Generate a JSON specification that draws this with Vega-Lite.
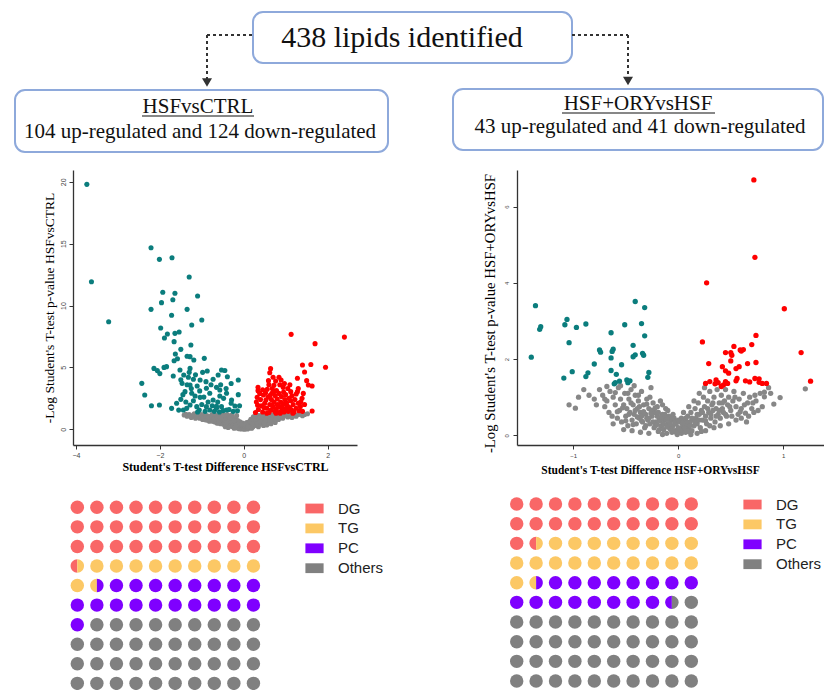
{
"$schema":"https://vega.github.io/schema/vega-lite/v6.json",
"autosize":{"type":"none"},
"padding":{"left":73,"top":0,"right":751,"bottom":690},
"background":"white",
"config":{"view":{"stroke":null},
"axis":{"grid":false,"domainColor":"#333","domainWidth":1.3,"tickColor":"#333","tickSize":4,"labelFont":"Liberation Sans","labelFontSize":7,"labelColor":"#444","titleFont":"Liberation Serif","titleColor":"#000"}},
"columns":2,
"spacing":{"row":10,"column":160},
"bounds":"flush",
"align":"each",
"resolve":{"scale":{"x":"independent","y":"independent","color":"independent","shape":"independent"},"legend":{"color":"independent"}},
"concat":[
{"width":284,"height":160,
"layer":[
{"data":{"values":[{"x":207,"y":35,"x2":253,"y2":35},{"x":207,"y":35,"x2":207,"y2":80}]},
"mark":{"type":"rule","strokeDash":[3,3],"strokeWidth":2,"color":"#333"},
"encoding":{"x":{"field":"x","type":"quantitative","scale":{"domain":[73,357],"nice":false,"zero":false},"axis":null},"x2":{"field":"x2"},"y":{"field":"y","type":"quantitative","scale":{"domain":[0,160],"reverse":true,"nice":false,"zero":false},"axis":null},"y2":{"field":"y2"}}},
{"data":{"values":[{"x":207,"y":82.5}]},
"mark":{"type":"point","shape":"triangle-down","filled":true,"size":100,"color":"#333","opacity":1},
"encoding":{"x":{"field":"x","type":"quantitative","axis":null},"y":{"field":"y","type":"quantitative","axis":null}}},
{"data":{"values":[{"x":253,"x2":572,"y":12,"y2":63},{"x":15,"x2":388,"y":90,"y2":152}]},
"mark":{"type":"rect","fill":"white","stroke":"#8EA9DB","strokeWidth":2,"cornerRadius":10},
"encoding":{"x":{"field":"x","type":"quantitative","axis":null},"x2":{"field":"x2"},"y":{"field":"y","type":"quantitative","axis":null},"y2":{"field":"y2"}}},
{"data":{"values":[{"x":142,"x2":254,"y":116,"y2":116}]},
"mark":{"type":"rule","strokeWidth":1.2,"color":"#111"},
"encoding":{"x":{"field":"x","type":"quantitative","axis":null},"x2":{"field":"x2"},"y":{"field":"y","type":"quantitative","axis":null},"y2":{"field":"y2"}}},
{"data":{"values":[{"x":402,"y":47,"t":"438 lipids identified"}]},
"mark":{"type":"text","font":"Liberation Serif","fontSize":30,"align":"center","baseline":"alphabetic","color":"#111"},
"encoding":{"x":{"field":"x","type":"quantitative","axis":null},"y":{"field":"y","type":"quantitative","axis":null},"text":{"field":"t"}}},
{"data":{"values":[{"x":198,"y":113,"t":"HSFvsCTRL"},{"x":200,"y":138,"t":"104 up-regulated and 124 down-regulated"}]},
"mark":{"type":"text","font":"Liberation Serif","fontSize":21,"align":"center","baseline":"alphabetic","color":"#111"},
"encoding":{"x":{"field":"x","type":"quantitative","axis":null},"y":{"field":"y","type":"quantitative","axis":null},"text":{"field":"t"}}}
]},
{"width":307,"height":160,
"layer":[
{"data":{"values":[{"x":572,"y":35,"x2":628,"y2":35},{"x":628,"y":35,"x2":628,"y2":78}]},
"mark":{"type":"rule","strokeDash":[3,3],"strokeWidth":2,"color":"#333"},
"encoding":{"x":{"field":"x","type":"quantitative","scale":{"domain":[517,824],"nice":false,"zero":false},"axis":null},"x2":{"field":"x2"},"y":{"field":"y","type":"quantitative","scale":{"domain":[0,160],"reverse":true,"nice":false,"zero":false},"axis":null},"y2":{"field":"y2"}}},
{"data":{"values":[{"x":628,"y":81}]},
"mark":{"type":"point","shape":"triangle-down","filled":true,"size":100,"color":"#333","opacity":1},
"encoding":{"x":{"field":"x","type":"quantitative","axis":null},"y":{"field":"y","type":"quantitative","axis":null}}},
{"data":{"values":[{"x":453,"x2":823,"y":89,"y2":150}]},
"mark":{"type":"rect","fill":"white","stroke":"#8EA9DB","strokeWidth":2,"cornerRadius":10},
"encoding":{"x":{"field":"x","type":"quantitative","axis":null},"x2":{"field":"x2"},"y":{"field":"y","type":"quantitative","axis":null},"y2":{"field":"y2"}}},
{"data":{"values":[{"x":562,"x2":715,"y":113,"y2":113}]},
"mark":{"type":"rule","strokeWidth":1.2,"color":"#111"},
"encoding":{"x":{"field":"x","type":"quantitative","axis":null},"x2":{"field":"x2"},"y":{"field":"y","type":"quantitative","axis":null},"y2":{"field":"y2"}}},
{"data":{"values":[{"x":638,"y":110,"t":"HSF+ORYvsHSF"},{"x":640,"y":133,"t":"43 up-regulated and 41 down-regulated"}]},
"mark":{"type":"text","font":"Liberation Serif","fontSize":21,"align":"center","baseline":"alphabetic","color":"#111"},
"encoding":{"x":{"field":"x","type":"quantitative","axis":null},"y":{"field":"y","type":"quantitative","axis":null},"text":{"field":"t"}}}
]},
{"width":284,"height":275,
"data":{"values":[
{"x":-1.42,"y":1.15,"s":"n"},{"x":-1.35,"y":1.05,"s":"n"},{"x":-1.3,"y":1.2,"s":"n"},{"x":-1.25,"y":0.95,"s":"n"},{"x":-1.2,"y":1.1,"s":"n"},{"x":-1.15,"y":0.9,"s":"n"},{"x":-1.1,"y":1.2,"s":"n"},{"x":-1.05,"y":0.9,"s":"n"},{"x":-1.0,"y":1.05,"s":"n"},{"x":-0.98,"y":0.8,"s":"n"},{"x":-0.95,"y":1.2,"s":"n"},{"x":-0.92,"y":0.95,"s":"n"},{"x":-0.9,"y":0.75,"s":"n"},{"x":-0.88,"y":1.1,"s":"n"},{"x":-0.85,"y":0.85,"s":"n"},{"x":-0.82,"y":0.65,"s":"n"},{"x":-0.8,"y":1.0,"s":"n"},{"x":-0.78,"y":0.75,"s":"n"},{"x":-0.75,"y":1.2,"s":"n"},{"x":-0.72,"y":0.9,"s":"n"},{"x":-0.7,"y":0.6,"s":"n"},{"x":-0.68,"y":0.75,"s":"n"},{"x":-0.66,"y":1.1,"s":"n"},{"x":-0.64,"y":0.5,"s":"n"},{"x":-0.62,"y":0.95,"s":"n"},{"x":-0.6,"y":0.65,"s":"n"},{"x":-0.58,"y":0.8,"s":"n"},{"x":-0.56,"y":1.2,"s":"n"},{"x":-0.55,"y":0.45,"s":"n"},{"x":-0.53,"y":1.0,"s":"n"},{"x":-0.52,"y":0.6,"s":"n"},{"x":-0.5,"y":0.85,"s":"n"},{"x":-0.48,"y":0.4,"s":"n"},{"x":-0.47,"y":0.7,"s":"n"},{"x":-0.46,"y":1.1,"s":"n"},{"x":-0.45,"y":0.5,"s":"n"},{"x":-0.43,"y":0.9,"s":"n"},{"x":-0.42,"y":0.35,"s":"n"},{"x":-0.4,"y":0.65,"s":"n"},{"x":-0.39,"y":1.2,"s":"n"},{"x":-0.38,"y":0.45,"s":"n"},{"x":-0.36,"y":0.8,"s":"n"},{"x":-0.35,"y":0.3,"s":"n"},{"x":-0.34,"y":1.0,"s":"n"},{"x":-0.33,"y":0.55,"s":"n"},{"x":-0.31,"y":0.35,"s":"n"},{"x":-0.3,"y":0.7,"s":"n"},{"x":-0.29,"y":1.15,"s":"n"},{"x":-0.28,"y":0.22,"s":"n"},{"x":-0.27,"y":0.5,"s":"n"},{"x":-0.26,"y":0.9,"s":"n"},{"x":-0.25,"y":0.3,"s":"n"},{"x":-0.24,"y":0.6,"s":"n"},{"x":-0.22,"y":0.15,"s":"n"},{"x":-0.21,"y":0.4,"s":"n"},{"x":-0.2,"y":0.8,"s":"n"},{"x":-0.19,"y":0.25,"s":"n"},{"x":-0.18,"y":0.55,"s":"n"},{"x":-0.17,"y":1.1,"s":"n"},{"x":-0.16,"y":0.1,"s":"n"},{"x":-0.15,"y":0.35,"s":"n"},{"x":-0.14,"y":0.7,"s":"n"},{"x":-0.13,"y":0.2,"s":"n"},{"x":-0.12,"y":0.45,"s":"n"},{"x":-0.11,"y":0.05,"s":"n"},{"x":-0.1,"y":0.3,"s":"n"},{"x":-0.09,"y":0.6,"s":"n"},{"x":-0.08,"y":0.15,"s":"n"},{"x":-0.07,"y":0.4,"s":"n"},{"x":-0.06,"y":0.02,"s":"n"},{"x":-0.05,"y":0.25,"s":"n"},{"x":-0.04,"y":0.1,"s":"n"},{"x":-0.03,"y":0.5,"s":"n"},{"x":-0.02,"y":0.2,"s":"n"},{"x":-0.01,"y":0.05,"s":"n"},{"x":0.0,"y":0.3,"s":"n"},{"x":0.01,"y":0.12,"s":"n"},{"x":0.02,"y":0.0,"s":"n"},{"x":0.03,"y":0.4,"s":"n"},{"x":0.04,"y":0.18,"s":"n"},{"x":0.05,"y":0.08,"s":"n"},{"x":0.06,"y":0.3,"s":"n"},{"x":0.07,"y":0.55,"s":"n"},{"x":0.08,"y":0.15,"s":"n"},{"x":0.09,"y":0.02,"s":"n"},{"x":0.1,"y":0.35,"s":"n"},{"x":0.11,"y":0.22,"s":"n"},{"x":0.12,"y":0.1,"s":"n"},{"x":0.13,"y":0.6,"s":"n"},{"x":0.14,"y":0.3,"s":"n"},{"x":0.15,"y":0.45,"s":"n"},{"x":0.16,"y":0.12,"s":"n"},{"x":0.17,"y":0.8,"s":"n"},{"x":0.18,"y":0.25,"s":"n"},{"x":0.19,"y":0.5,"s":"n"},{"x":0.2,"y":0.35,"s":"n"},{"x":0.21,"y":0.7,"s":"n"},{"x":0.22,"y":0.2,"s":"n"},{"x":0.23,"y":1.0,"s":"n"},{"x":0.24,"y":0.45,"s":"n"},{"x":0.25,"y":0.6,"s":"n"},{"x":0.26,"y":0.3,"s":"n"},{"x":0.27,"y":0.85,"s":"n"},{"x":0.28,"y":0.5,"s":"n"},{"x":0.29,"y":1.2,"s":"n"},{"x":0.3,"y":0.4,"s":"n"},{"x":0.31,"y":0.7,"s":"n"},{"x":0.32,"y":0.55,"s":"n"},{"x":0.33,"y":0.95,"s":"n"},{"x":0.34,"y":0.35,"s":"n"},{"x":0.35,"y":0.75,"s":"n"},{"x":0.36,"y":1.1,"s":"n"},{"x":0.37,"y":0.5,"s":"n"},{"x":0.38,"y":0.85,"s":"n"},{"x":0.4,"y":0.65,"s":"n"},{"x":0.41,"y":1.0,"s":"n"},{"x":0.42,"y":0.45,"s":"n"},{"x":0.44,"y":0.8,"s":"n"},{"x":0.45,"y":1.2,"s":"n"},{"x":0.46,"y":0.6,"s":"n"},{"x":0.48,"y":0.9,"s":"n"},{"x":0.5,"y":0.7,"s":"n"},{"x":0.52,"y":1.1,"s":"n"},{"x":0.54,"y":0.55,"s":"n"},{"x":0.56,"y":0.85,"s":"n"},{"x":0.58,"y":1.25,"s":"n"},{"x":0.6,"y":0.75,"s":"n"},{"x":0.62,"y":0.95,"s":"n"},{"x":0.64,"y":0.6,"s":"n"},{"x":0.66,"y":1.15,"s":"n"},{"x":0.68,"y":0.8,"s":"n"},{"x":0.7,"y":1.0,"s":"n"},{"x":0.72,"y":0.7,"s":"n"},{"x":0.75,"y":1.2,"s":"n"},{"x":0.78,"y":0.9,"s":"n"},{"x":0.8,"y":1.1,"s":"n"},{"x":0.83,"y":0.8,"s":"n"},{"x":0.86,"y":1.0,"s":"n"},{"x":0.9,"y":1.2,"s":"n"},{"x":0.93,"y":0.9,"s":"n"},{"x":0.96,"y":1.1,"s":"n"},{"x":1.0,"y":1.25,"s":"n"},{"x":1.05,"y":1.0,"s":"n"},{"x":1.1,"y":1.15,"s":"n"},{"x":1.15,"y":0.95,"s":"n"},{"x":1.2,"y":1.2,"s":"n"},{"x":1.25,"y":1.05,"s":"n"},{"x":1.3,"y":1.2,"s":"n"},{"x":1.4,"y":1.1,"s":"n"},{"x":1.45,"y":1.2,"s":"n"},{"x":1.52,"y":1.25,"s":"n"},{"x":-0.86,"y":0.75,"s":"n"},{"x":-0.74,"y":0.65,"s":"n"},{"x":-0.6,"y":0.5,"s":"n"},{"x":-0.44,"y":0.2,"s":"n"},{"x":-0.37,"y":0.15,"s":"n"},{"x":-0.23,"y":0.08,"s":"n"},{"x":0.19,"y":0.08,"s":"n"},{"x":0.35,"y":0.2,"s":"n"},{"x":0.47,"y":0.3,"s":"n"},{"x":0.55,"y":0.35,"s":"n"},{"x":0.65,"y":0.45,"s":"n"},{"x":0.75,"y":0.55,"s":"n"},
{"x":-1.38,"y":1.22,"s":"n"},{"x":-1.28,"y":1.1,"s":"n"},{"x":-1.18,"y":1.25,"s":"n"},{"x":-1.12,"y":1.0,"s":"n"},{"x":-1.02,"y":1.2,"s":"n"},{"x":-0.96,"y":0.9,"s":"n"},{"x":-0.9,"y":1.05,"s":"n"},{"x":-0.84,"y":0.95,"s":"n"},{"x":-0.77,"y":1.1,"s":"n"},{"x":-0.7,"y":0.85,"s":"n"},{"x":-0.64,"y":1.0,"s":"n"},{"x":-0.59,"y":0.75,"s":"n"},{"x":-0.54,"y":0.9,"s":"n"},{"x":-0.49,"y":1.2,"s":"n"},{"x":-0.44,"y":0.75,"s":"n"},{"x":-0.41,"y":0.55,"s":"n"},{"x":-0.32,"y":0.9,"s":"n"},{"x":-0.23,"y":0.7,"s":"n"},{"x":-0.18,"y":0.35,"s":"n"},{"x":-0.1,"y":0.5,"s":"n"},{"x":-0.05,"y":0.4,"s":"n"},{"x":0.05,"y":0.45,"s":"n"},{"x":0.1,"y":0.2,"s":"n"},{"x":0.15,"y":0.65,"s":"n"},{"x":0.22,"y":0.5,"s":"n"},{"x":0.28,"y":0.7,"s":"n"},{"x":0.33,"y":0.45,"s":"n"},{"x":0.39,"y":0.6,"s":"n"},{"x":0.43,"y":1.05,"s":"n"},{"x":0.49,"y":0.5,"s":"n"},{"x":0.53,"y":0.8,"s":"n"},{"x":0.57,"y":1.0,"s":"n"},{"x":0.63,"y":0.75,"s":"n"},{"x":0.69,"y":1.15,"s":"n"},{"x":0.76,"y":0.8,"s":"n"},{"x":0.85,"y":1.2,"s":"n"},{"x":0.92,"y":1.05,"s":"n"},{"x":1.08,"y":1.25,"s":"n"},{"x":1.18,"y":1.1,"s":"n"},{"x":1.35,"y":1.25,"s":"n"},
{"x":-3.74,"y":19.79,"s":"d"},{"x":-3.63,"y":11.92,"s":"d"},{"x":-3.22,"y":8.69,"s":"d"},{"x":-2.21,"y":14.67,"s":"d"},{"x":-2.01,"y":13.73,"s":"d"},{"x":-1.71,"y":13.86,"s":"d"},{"x":-1.3,"y":12.3,"s":"d"},{"x":-1.93,"y":11.07,"s":"d"},{"x":-1.64,"y":10.99,"s":"d"},{"x":-1.1,"y":10.77,"s":"d"},{"x":-1.96,"y":10.23,"s":"d"},{"x":-1.69,"y":10.47,"s":"d"},{"x":-2.21,"y":9.69,"s":"d"},{"x":-1.35,"y":9.69,"s":"d"},
{"x":-1.72,"y":9.21,"s":"d"},{"x":-1.24,"y":8.43,"s":"d"},{"x":-1.0,"y":8.83,"s":"d"},{"x":-1.98,"y":8.18,"s":"d"},{"x":-1.82,"y":7.7,"s":"d"},{"x":-1.54,"y":7.86,"s":"d"},{"x":-1.89,"y":7.37,"s":"d"},{"x":-1.64,"y":7.75,"s":"d"},{"x":-1.66,"y":7.08,"s":"d"},{"x":-1.26,"y":6.81,"s":"d"},{"x":-1.5,"y":6.46,"s":"d"},{"x":-1.63,"y":6.08,"s":"d"},{"x":-1.28,"y":5.87,"s":"d"},{"x":-0.94,"y":5.73,"s":"d"},{"x":-1.19,"y":5.6,"s":"d"},{"x":-1.66,"y":5.54,"s":"d"},{"x":-2.14,"y":4.92,"s":"d"},{"x":-2.06,"y":4.74,"s":"d"},{"x":-1.84,"y":5.06,"s":"d"},{"x":-1.52,"y":4.79,"s":"d"},{"x":-1.28,"y":4.92,"s":"d"},{"x":-0.87,"y":4.71,"s":"d"},{"x":-0.53,"y":4.79,"s":"d"},{"x":-0.61,"y":4.39,"s":"d"},{"x":-1.43,"y":4.39,"s":"d"},{"x":-1.32,"y":4.2,"s":"d"},{"x":-1.2,"y":4.04,"s":"d"},{"x":-1.04,"y":3.98,"s":"d"},{"x":-0.9,"y":3.85,"s":"d"},{"x":-0.73,"y":4.04,"s":"d"},{"x":-0.39,"y":4.25,"s":"d"},{"x":-0.13,"y":3.98,"s":"d"},{"x":-2.43,"y":3.71,"s":"d"},{"x":-2.36,"y":2.77,"s":"d"},{"x":-1.47,"y":3.71,"s":"d"},{"x":-1.28,"y":3.58,"s":"d"},{"x":-1.11,"y":3.5,"s":"d"},{"x":-0.89,"y":3.31,"s":"d"},{"x":-0.65,"y":3.39,"s":"d"},{"x":-0.57,"y":3.17,"s":"d"},{"x":-1.4,"y":3.04,"s":"d"},{"x":-1.24,"y":2.91,"s":"d"},{"x":-1.16,"y":2.69,"s":"d"},{"x":-1.04,"y":2.58,"s":"d"},{"x":-0.81,"y":2.91,"s":"d"},{"x":-0.73,"y":2.37,"s":"d"},{"x":-0.57,"y":2.69,"s":"d"},{"x":-0.41,"y":2.91,"s":"d"},{"x":-0.29,"y":2.37,"s":"d"},{"x":-0.21,"y":1.88,"s":"d"},{"x":-2.01,"y":1.96,"s":"d"},{"x":-1.72,"y":1.69,"s":"d"},{"x":-1.5,"y":2.42,"s":"d"},{"x":-1.44,"y":1.56,"s":"d"},{"x":-1.36,"y":1.69,"s":"d"},{"x":-1.28,"y":1.96,"s":"d"},{"x":-1.12,"y":1.83,"s":"d"},{"x":-1.06,"y":1.56,"s":"d"},{"x":-0.89,"y":1.83,"s":"d"},{"x":-0.81,"y":1.56,"s":"d"},{"x":-0.65,"y":1.69,"s":"d"},{"x":-0.53,"y":1.83,"s":"d"},{"x":-0.49,"y":1.51,"s":"d"},{"x":-0.41,"y":1.56,"s":"d"},
{"x":-1.35,"y":3.6,"s":"d"},{"x":-1.25,"y":3.3,"s":"d"},{"x":-1.05,"y":3.1,"s":"d"},{"x":-0.95,"y":2.6,"s":"d"},{"x":-0.85,"y":2.2,"s":"d"},{"x":-0.75,"y":1.9,"s":"d"},{"x":-0.62,"y":2.2,"s":"d"},{"x":-0.48,"y":2.5,"s":"d"},{"x":-0.42,"y":3.3,"s":"d"},{"x":-0.35,"y":1.6,"s":"d"},{"x":-0.25,"y":1.45,"s":"d"},{"x":-0.3,"y":2.1,"s":"d"},{"x":-1.45,"y":2.8,"s":"d"},{"x":-1.38,"y":2.2,"s":"d"},{"x":-1.2,"y":2.3,"s":"d"},{"x":-1.0,"y":2.0,"s":"d"},{"x":-0.92,"y":1.45,"s":"d"},{"x":-0.7,"y":1.45,"s":"d"},{"x":-0.58,"y":1.4,"s":"d"},{"x":-0.15,"y":1.5,"s":"d"},{"x":-0.1,"y":1.9,"s":"d"},{"x":-0.13,"y":2.8,"s":"d"},{"x":-0.55,"y":3.6,"s":"d"},{"x":-0.78,"y":3.6,"s":"d"},{"x":-1.55,"y":1.55,"s":"d"},{"x":-1.6,"y":2.1,"s":"d"},{"x":-1.3,"y":4.6,"s":"d"},{"x":-1.15,"y":4.4,"s":"d"},{"x":-0.98,"y":4.6,"s":"d"},{"x":-0.45,"y":4.75,"s":"d"},{"x":-0.3,"y":3.7,"s":"d"},{"x":-1.1,"y":1.4,"s":"d"},{"x":-1.5,"y":4.0,"s":"d"},{"x":-1.68,"y":4.3,"s":"d"},{"x":-2.0,"y":4.5,"s":"d"},{"x":-2.2,"y":1.9,"s":"d"},{"x":-1.9,"y":5.0,"s":"d"},{"x":-1.58,"y":5.7,"s":"d"},{"x":-1.35,"y":5.9,"s":"d"},{"x":-0.65,"y":1.85,"s":"d"},
{"x":1.13,"y":7.67,"s":"u"},{"x":2.4,"y":7.45,"s":"u"},{"x":1.7,"y":6.92,"s":"u"},{"x":1.4,"y":5.19,"s":"u"},{"x":1.6,"y":5.24,"s":"u"},{"x":1.95,"y":5.01,"s":"u"},{"x":1.45,"y":4.63,"s":"u"},{"x":0.64,"y":4.9,"s":"u"},{"x":0.62,"y":4.57,"s":"u"},{"x":1.28,"y":4.12,"s":"u"},{"x":1.5,"y":3.93,"s":"u"},{"x":1.54,"y":3.58,"s":"u"},{"x":1.63,"y":3.5,"s":"u"},{"x":1.63,"y":1.48,"s":"u"},{"x":0.59,"y":3.93,"s":"u"},{"x":0.84,"y":4.2,"s":"u"},{"x":0.89,"y":3.98,"s":"u"},{"x":0.72,"y":3.55,"s":"u"},{"x":0.34,"y":3.39,"s":"u"},{"x":0.34,"y":3.12,"s":"u"},{"x":0.32,"y":2.58,"s":"u"},{"x":0.56,"y":3.23,"s":"u"},{"x":0.94,"y":3.39,"s":"u"},{"x":0.67,"y":2.91,"s":"u"},{"x":0.78,"y":3.12,"s":"u"},{"x":1.12,"y":3.04,"s":"u"},{"x":1.28,"y":3.04,"s":"u"},{"x":1.36,"y":2.23,"s":"u"},{"x":1.39,"y":2.5,"s":"u"},{"x":0.47,"y":2.77,"s":"u"},{"x":0.53,"y":2.37,"s":"u"},
{"x":0.28,"y":1.35,"s":"u"},{"x":0.35,"y":1.6,"s":"u"},{"x":0.42,"y":1.9,"s":"u"},{"x":0.45,"y":1.4,"s":"u"},{"x":0.5,"y":2.1,"s":"u"},{"x":0.55,"y":1.7,"s":"u"},{"x":0.58,"y":2.6,"s":"u"},{"x":0.6,"y":1.35,"s":"u"},{"x":0.62,"y":2.0,"s":"u"},{"x":0.65,"y":1.55,"s":"u"},{"x":0.66,"y":2.4,"s":"u"},{"x":0.68,"y":3.3,"s":"u"},{"x":0.7,"y":1.8,"s":"u"},{"x":0.72,"y":2.2,"s":"u"},{"x":0.74,"y":1.45,"s":"u"},{"x":0.75,"y":2.7,"s":"u"},{"x":0.76,"y":3.9,"s":"u"},{"x":0.78,"y":1.65,"s":"u"},{"x":0.8,"y":2.0,"s":"u"},{"x":0.8,"y":2.45,"s":"u"},{"x":0.82,"y":1.35,"s":"u"},{"x":0.84,"y":2.9,"s":"u"},{"x":0.85,"y":1.85,"s":"u"},{"x":0.86,"y":3.6,"s":"u"},{"x":0.88,"y":2.2,"s":"u"},{"x":0.9,"y":1.5,"s":"u"},{"x":0.9,"y":2.65,"s":"u"},{"x":0.92,"y":1.75,"s":"u"},{"x":0.94,"y":2.05,"s":"u"},{"x":0.95,"y":3.0,"s":"u"},{"x":0.96,"y":1.4,"s":"u"},{"x":0.98,"y":2.4,"s":"u"},{"x":1.0,"y":1.65,"s":"u"},{"x":1.0,"y":2.8,"s":"u"},{"x":1.02,"y":2.15,"s":"u"},{"x":1.04,"y":1.9,"s":"u"},{"x":1.05,"y":3.3,"s":"u"},{"x":1.06,"y":1.45,"s":"u"},{"x":1.08,"y":2.5,"s":"u"},{"x":1.1,"y":1.75,"s":"u"},{"x":1.12,"y":2.3,"s":"u"},{"x":1.14,"y":1.55,"s":"u"},{"x":1.15,"y":2.7,"s":"u"},{"x":1.18,"y":2.0,"s":"u"},{"x":1.2,"y":1.4,"s":"u"},{"x":1.22,"y":2.4,"s":"u"},{"x":1.25,"y":1.7,"s":"u"},{"x":1.25,"y":2.85,"s":"u"},{"x":1.3,"y":2.1,"s":"u"},{"x":1.32,"y":1.5,"s":"u"},{"x":1.35,"y":1.85,"s":"u"},{"x":1.4,"y":1.45,"s":"u"},{"x":1.42,"y":2.9,"s":"u"},{"x":1.45,"y":2.0,"s":"u"},{"x":0.4,"y":2.4,"s":"u"},{"x":0.38,"y":2.9,"s":"u"},{"x":0.45,"y":3.2,"s":"u"},{"x":0.52,"y":2.95,"s":"u"},{"x":0.6,"y":3.6,"s":"u"},{"x":0.7,"y":4.2,"s":"u"},{"x":0.55,"y":1.3,"s":"u"},{"x":0.48,"y":1.75,"s":"u"},{"x":0.63,"y":2.75,"s":"u"},{"x":0.73,"y":3.05,"s":"u"},{"x":0.87,"y":1.3,"s":"u"},{"x":0.97,"y":3.7,"s":"u"},{"x":1.1,"y":3.6,"s":"u"},{"x":0.33,"y":1.95,"s":"u"},{"x":0.3,"y":2.2,"s":"u"},{"x":0.77,"y":1.3,"s":"u"},{"x":1.17,"y":1.3,"s":"u"},{"x":1.3,"y":3.3,"s":"u"},{"x":0.68,"y":1.95,"s":"u"}
]},
"mark":{"type":"point","filled":true,"size":26,"opacity":1},
"encoding":{
"x":{"field":"x","type":"quantitative","scale":{"domain":[-4.07,2.7],"nice":false,"zero":false},"axis":{"values":[-4,-2,0,2],"title":"Student's T-test Difference HSFvsCTRL","titleFontSize":12,"titleFontWeight":"bold","titleX":152,"labelPadding":2,"titlePadding":3}},
"y":{"field":"y","type":"quantitative","scale":{"domain":[-1.27,20.95],"nice":false,"zero":false},"axis":{"values":[0,5,10,15,20],"title":"-Log Student's T-test p-value HSFvsCTRL","titleFontSize":13.5,"titleFontWeight":"normal","labelAngle":-90,"labelAlign":"center","labelBaseline":"bottom","labelPadding":3,"titlePadding":3}},
"color":{"field":"s","type":"nominal","scale":{"domain":["n","d","u"],"range":["#878787","#0B7D7D","#FF0000"]},"legend":null}}},
{"width":307,"height":275,
"data":{"values":[
{"x":-1.04,"y":0.8,"s":"n"},{"x":-0.98,"y":0.71,"s":"n"},{"x":-0.85,"y":1.05,"s":"n"},{"x":-0.8,"y":0.95,"s":"n"},{"x":-0.78,"y":0.8,"s":"n"},{"x":-0.75,"y":1.2,"s":"n"},{"x":-0.72,"y":1.05,"s":"n"},{"x":-0.7,"y":0.75,"s":"n"},{"x":-0.68,"y":0.9,"s":"n"},{"x":-0.66,"y":0.6,"s":"n"},{"x":-0.65,"y":1.15,"s":"n"},{"x":-0.63,"y":0.5,"s":"n"},{"x":-0.62,"y":1.0,"s":"n"},{"x":-0.6,"y":0.8,"s":"n"},{"x":-0.58,"y":0.45,"s":"n"},{"x":-0.57,"y":1.25,"s":"n"},{"x":-0.56,"y":0.65,"s":"n"},{"x":-0.55,"y":0.95,"s":"n"},{"x":-0.54,"y":0.35,"s":"n"},{"x":-0.52,"y":0.8,"s":"n"},{"x":-0.51,"y":1.1,"s":"n"},{"x":-0.5,"y":0.5,"s":"n"},{"x":-0.49,"y":0.7,"s":"n"},{"x":-0.48,"y":0.25,"s":"n"},{"x":-0.47,"y":0.95,"s":"n"},{"x":-0.46,"y":0.6,"s":"n"},{"x":-0.45,"y":1.2,"s":"n"},{"x":-0.44,"y":0.4,"s":"n"},{"x":-0.43,"y":0.8,"s":"n"},{"x":-0.42,"y":0.55,"s":"n"},{"x":-0.41,"y":1.05,"s":"n"},{"x":-0.4,"y":0.3,"s":"n"},{"x":-0.39,"y":0.7,"s":"n"},{"x":-0.38,"y":0.9,"s":"n"},{"x":-0.37,"y":0.45,"s":"n"},{"x":-0.36,"y":0.6,"s":"n"},{"x":-0.35,"y":1.15,"s":"n"},{"x":-0.34,"y":0.35,"s":"n"},{"x":-0.33,"y":0.8,"s":"n"},{"x":-0.32,"y":0.2,"s":"n"},{"x":-0.31,"y":0.55,"s":"n"},{"x":-0.3,"y":0.95,"s":"n"},{"x":-0.29,"y":0.4,"s":"n"},{"x":-0.28,"y":0.7,"s":"n"},{"x":-0.27,"y":0.3,"s":"n"},{"x":-0.26,"y":1.25,"s":"n"},{"x":-0.25,"y":0.5,"s":"n"},{"x":-0.24,"y":0.85,"s":"n"},{"x":-0.23,"y":0.2,"s":"n"},{"x":-0.22,"y":0.6,"s":"n"},{"x":-0.21,"y":0.35,"s":"n"},{"x":-0.2,"y":0.75,"s":"n"},{"x":-0.19,"y":0.1,"s":"n"},{"x":-0.18,"y":0.45,"s":"n"},{"x":-0.17,"y":0.9,"s":"n"},{"x":-0.16,"y":0.25,"s":"n"},{"x":-0.15,"y":0.55,"s":"n"},{"x":-0.14,"y":0.15,"s":"n"},{"x":-0.13,"y":0.4,"s":"n"},{"x":-0.12,"y":0.7,"s":"n"},{"x":-0.11,"y":0.05,"s":"n"},{"x":-0.1,"y":0.3,"s":"n"},{"x":-0.09,"y":0.5,"s":"n"},{"x":-0.08,"y":0.18,"s":"n"},{"x":-0.07,"y":0.38,"s":"n"},{"x":-0.06,"y":0.08,"s":"n"},{"x":-0.05,"y":0.25,"s":"n"},{"x":-0.04,"y":0.45,"s":"n"},{"x":-0.03,"y":0.12,"s":"n"},{"x":-0.02,"y":0.3,"s":"n"},{"x":-0.01,"y":0.02,"s":"n"},{"x":0.0,"y":0.2,"s":"n"},{"x":0.01,"y":0.1,"s":"n"},{"x":0.02,"y":0.35,"s":"n"},{"x":0.03,"y":0.05,"s":"n"},{"x":0.04,"y":0.22,"s":"n"},{"x":0.05,"y":0.15,"s":"n"},{"x":0.06,"y":0.4,"s":"n"},{"x":0.07,"y":0.08,"s":"n"},{"x":0.08,"y":0.28,"s":"n"},{"x":0.09,"y":0.5,"s":"n"},{"x":0.1,"y":0.18,"s":"n"},{"x":0.11,"y":0.35,"s":"n"},{"x":0.12,"y":0.6,"s":"n"},{"x":0.13,"y":0.12,"s":"n"},{"x":0.14,"y":0.4,"s":"n"},{"x":0.15,"y":0.25,"s":"n"},{"x":0.16,"y":0.7,"s":"n"},{"x":0.17,"y":0.45,"s":"n"},{"x":0.18,"y":0.3,"s":"n"},{"x":0.19,"y":0.85,"s":"n"},{"x":0.2,"y":0.55,"s":"n"},{"x":0.21,"y":0.2,"s":"n"},{"x":0.22,"y":0.65,"s":"n"},{"x":0.23,"y":0.4,"s":"n"},{"x":0.24,"y":1.0,"s":"n"},{"x":0.25,"y":0.75,"s":"n"},{"x":0.26,"y":0.5,"s":"n"},{"x":0.27,"y":0.3,"s":"n"},{"x":0.28,"y":0.9,"s":"n"},{"x":0.29,"y":0.6,"s":"n"},{"x":0.3,"y":1.15,"s":"n"},{"x":0.31,"y":0.45,"s":"n"},{"x":0.32,"y":0.8,"s":"n"},{"x":0.33,"y":0.65,"s":"n"},{"x":0.34,"y":1.0,"s":"n"},{"x":0.35,"y":0.35,"s":"n"},{"x":0.36,"y":0.7,"s":"n"},{"x":0.37,"y":1.2,"s":"n"},{"x":0.38,"y":0.55,"s":"n"},{"x":0.39,"y":0.85,"s":"n"},{"x":0.4,"y":0.45,"s":"n"},{"x":0.41,"y":1.05,"s":"n"},{"x":0.42,"y":0.7,"s":"n"},{"x":0.43,"y":0.6,"s":"n"},{"x":0.44,"y":0.9,"s":"n"},{"x":0.45,"y":1.2,"s":"n"},{"x":0.46,"y":0.5,"s":"n"},{"x":0.47,"y":0.8,"s":"n"},{"x":0.48,"y":1.0,"s":"n"},{"x":0.5,"y":0.65,"s":"n"},{"x":0.52,"y":0.9,"s":"n"},{"x":0.53,"y":1.15,"s":"n"},{"x":0.55,"y":0.75,"s":"n"},{"x":0.57,"y":0.55,"s":"n"},{"x":0.58,"y":0.95,"s":"n"},{"x":0.6,"y":0.7,"s":"n"},{"x":0.62,"y":1.1,"s":"n"},{"x":0.64,"y":0.58,"s":"n"},{"x":0.66,"y":0.85,"s":"n"},{"x":0.68,"y":1.0,"s":"n"},{"x":0.7,"y":0.7,"s":"n"},{"x":0.72,"y":0.6,"s":"n"},{"x":0.74,"y":0.9,"s":"n"},{"x":0.76,"y":0.65,"s":"n"},{"x":0.78,"y":1.1,"s":"n"},{"x":0.82,"y":1.13,"s":"n"},{"x":0.82,"y":1.01,"s":"n"},{"x":0.91,"y":0.82,"s":"n"},{"x":0.97,"y":0.99,"s":"n"},{"x":1.21,"y":1.22,"s":"n"},{"x":0.86,"y":1.25,"s":"n"},{"x":-0.9,"y":1.2,"s":"n"},{"x":-0.95,"y":1.0,"s":"n"},{"x":-0.62,"y":0.3,"s":"n"},{"x":-0.52,"y":0.15,"s":"n"},{"x":-0.44,"y":0.12,"s":"n"},{"x":-0.36,"y":0.08,"s":"n"},{"x":-0.28,"y":0.05,"s":"n"},{"x":0.18,"y":0.05,"s":"n"},{"x":0.26,"y":0.12,"s":"n"},{"x":0.34,"y":0.2,"s":"n"},{"x":0.4,"y":0.25,"s":"n"},{"x":0.48,"y":0.3,"s":"n"},{"x":0.55,"y":0.4,"s":"n"},{"x":0.6,"y":0.45,"s":"n"},{"x":0.65,"y":0.35,"s":"n"},{"x":-0.15,"y":0.02,"s":"n"},{"x":0.12,"y":0.02,"s":"n"},{"x":-0.35,"y":0.5,"s":"n"},{"x":-0.3,"y":0.45,"s":"n"},{"x":-0.25,"y":0.65,"s":"n"},{"x":-0.2,"y":0.5,"s":"n"},{"x":-0.15,"y":0.8,"s":"n"},{"x":-0.1,"y":0.65,"s":"n"},{"x":-0.05,"y":0.55,"s":"n"},{"x":0.05,"y":0.6,"s":"n"},{"x":0.1,"y":0.75,"s":"n"},{"x":0.15,"y":0.9,"s":"n"},{"x":0.2,"y":1.1,"s":"n"},{"x":0.25,"y":1.25,"s":"n"},{"x":-0.55,"y":1.3,"s":"n"},{"x":-0.68,"y":1.28,"s":"n"},{"x":-0.42,"y":1.3,"s":"n"},{"x":0.3,"y":0.25,"s":"n"},{"x":0.22,"y":0.1,"s":"n"},{"x":-0.12,"y":0.5,"s":"n"},{"x":-0.07,"y":0.15,"s":"n"},{"x":0.03,"y":0.45,"s":"n"},{"x":0.08,"y":0.35,"s":"n"},{"x":-0.22,"y":0.25,"s":"n"},{"x":-0.18,"y":0.15,"s":"n"},
{"x":-0.58,"y":0.62,"s":"n"},{"x":-0.53,"y":0.72,"s":"n"},{"x":-0.5,"y":0.38,"s":"n"},{"x":-0.47,"y":0.55,"s":"n"},{"x":-0.45,"y":0.85,"s":"n"},{"x":-0.43,"y":0.28,"s":"n"},{"x":-0.41,"y":0.65,"s":"n"},{"x":-0.39,"y":0.48,"s":"n"},{"x":-0.37,"y":0.75,"s":"n"},{"x":-0.35,"y":0.38,"s":"n"},{"x":-0.33,"y":0.62,"s":"n"},{"x":-0.31,"y":0.25,"s":"n"},{"x":-0.3,"y":0.82,"s":"n"},{"x":-0.28,"y":0.45,"s":"n"},{"x":-0.26,"y":0.58,"s":"n"},{"x":-0.24,"y":0.35,"s":"n"},{"x":-0.22,"y":0.72,"s":"n"},{"x":-0.2,"y":0.28,"s":"n"},{"x":-0.19,"y":0.6,"s":"n"},{"x":-0.17,"y":0.38,"s":"n"},{"x":-0.16,"y":0.48,"s":"n"},{"x":-0.14,"y":0.3,"s":"n"},{"x":-0.13,"y":0.55,"s":"n"},{"x":-0.11,"y":0.22,"s":"n"},{"x":-0.1,"y":0.42,"s":"n"},{"x":-0.08,"y":0.3,"s":"n"},{"x":-0.06,"y":0.45,"s":"n"},{"x":-0.05,"y":0.12,"s":"n"},{"x":-0.03,"y":0.35,"s":"n"},{"x":-0.02,"y":0.08,"s":"n"},{"x":0.0,"y":0.4,"s":"n"},{"x":0.02,"y":0.15,"s":"n"},{"x":0.04,"y":0.3,"s":"n"},{"x":0.06,"y":0.2,"s":"n"},{"x":0.07,"y":0.45,"s":"n"},{"x":0.09,"y":0.1,"s":"n"},{"x":0.11,"y":0.25,"s":"n"},{"x":0.13,"y":0.45,"s":"n"},{"x":0.16,"y":0.35,"s":"n"},{"x":0.18,"y":0.55,"s":"n"},{"x":0.2,"y":0.4,"s":"n"},{"x":0.23,"y":0.6,"s":"n"},{"x":0.26,"y":0.38,"s":"n"},{"x":0.28,"y":0.7,"s":"n"},{"x":0.31,"y":0.55,"s":"n"},{"x":0.33,"y":0.85,"s":"n"},{"x":0.36,"y":0.5,"s":"n"},{"x":0.39,"y":0.65,"s":"n"},{"x":0.42,"y":0.85,"s":"n"},{"x":0.45,"y":0.55,"s":"n"},{"x":0.49,"y":0.75,"s":"n"},{"x":0.51,"y":0.5,"s":"n"},{"x":0.54,"y":1.0,"s":"n"},{"x":0.59,"y":0.62,"s":"n"},{"x":0.63,"y":0.8,"s":"n"},{"x":0.67,"y":0.5,"s":"n"},{"x":0.71,"y":0.85,"s":"n"},{"x":0.73,"y":1.05,"s":"n"},{"x":0.8,"y":0.75,"s":"n"},{"x":0.88,"y":1.1,"s":"n"},{"x":-0.48,"y":1.1,"s":"n"},{"x":-0.6,"y":1.12,"s":"n"},{"x":-0.7,"y":0.95,"s":"n"},{"x":-0.38,"y":1.05,"s":"n"},{"x":-0.27,"y":1.0,"s":"n"},
{"x":-1.36,"y":3.4,"s":"d"},{"x":-1.31,"y":2.85,"s":"d"},{"x":-1.32,"y":2.78,"s":"d"},{"x":-1.4,"y":2.05,"s":"d"},{"x":-1.06,"y":3.04,"s":"d"},{"x":-1.08,"y":2.9,"s":"d"},{"x":-0.97,"y":2.83,"s":"d"},{"x":-1.04,"y":2.43,"s":"d"},{"x":-0.88,"y":2.92,"s":"d"},{"x":-1.01,"y":1.67,"s":"d"},{"x":-1.09,"y":1.5,"s":"d"},{"x":-0.75,"y":2.24,"s":"d"},{"x":-0.74,"y":2.18,"s":"d"},{"x":-0.8,"y":1.87,"s":"d"},{"x":-0.86,"y":1.64,"s":"d"},{"x":-0.88,"y":1.54,"s":"d"},{"x":-0.64,"y":2.69,"s":"d"},{"x":-0.62,"y":2.26,"s":"d"},{"x":-0.63,"y":2.2,"s":"d"},{"x":-0.64,"y":2.03,"s":"d"},{"x":-0.64,"y":1.7,"s":"d"},{"x":-0.59,"y":1.6,"s":"d"},{"x":-0.54,"y":1.85,"s":"d"},{"x":-0.51,"y":2.9,"s":"d"},{"x":-0.43,"y":2.36,"s":"d"},{"x":-0.41,"y":2.11,"s":"d"},{"x":-0.43,"y":2.06,"s":"d"},{"x":-0.41,"y":3.51,"s":"d"},{"x":-0.35,"y":2.93,"s":"d"},{"x":-0.34,"y":2.15,"s":"d"},{"x":-0.33,"y":2.1,"s":"d"},{"x":-0.32,"y":3.35,"s":"d"},{"x":-0.32,"y":2.61,"s":"d"},{"x":-0.28,"y":1.65,"s":"d"},{"x":-0.29,"y":1.52,"s":"d"},{"x":-0.6,"y":1.38,"s":"d"},{"x":-0.49,"y":1.45,"s":"d"},{"x":-0.48,"y":1.38,"s":"d"},{"x":-0.46,"y":1.43,"s":"d"},{"x":-0.56,"y":1.42,"s":"d"},{"x":-0.61,"y":1.35,"s":"d"},
{"x":0.72,"y":6.7,"s":"u"},{"x":0.73,"y":4.67,"s":"u"},{"x":0.27,"y":4.0,"s":"u"},{"x":1.01,"y":3.32,"s":"u"},{"x":0.74,"y":2.62,"s":"u"},{"x":0.23,"y":2.45,"s":"u"},{"x":0.7,"y":2.38,"s":"u"},{"x":1.17,"y":2.17,"s":"u"},{"x":0.53,"y":2.33,"s":"u"},{"x":0.45,"y":2.17,"s":"u"},{"x":0.5,"y":2.17,"s":"u"},{"x":0.51,"y":2.1,"s":"u"},{"x":0.59,"y":2.24,"s":"u"},{"x":0.6,"y":2.21,"s":"u"},{"x":0.29,"y":1.88,"s":"u"},{"x":0.42,"y":1.8,"s":"u"},{"x":0.45,"y":1.69,"s":"u"},{"x":0.48,"y":1.63,"s":"u"},{"x":0.58,"y":1.8,"s":"u"},{"x":0.66,"y":1.88,"s":"u"},{"x":0.74,"y":1.91,"s":"u"},{"x":0.56,"y":1.49,"s":"u"},{"x":0.55,"y":1.43,"s":"u"},{"x":0.64,"y":1.43,"s":"u"},{"x":0.73,"y":1.49,"s":"u"},{"x":0.77,"y":1.39,"s":"u"},{"x":0.8,"y":1.36,"s":"u"},{"x":0.84,"y":1.36,"s":"u"},{"x":1.26,"y":1.42,"s":"u"},{"x":0.26,"y":1.36,"s":"u"},{"x":0.3,"y":1.41,"s":"u"},{"x":0.36,"y":1.45,"s":"u"},{"x":0.38,"y":1.38,"s":"u"},{"x":0.43,"y":1.32,"s":"u"},{"x":0.45,"y":1.41,"s":"u"},{"x":0.41,"y":1.28,"s":"u"},{"x":0.55,"y":1.75,"s":"u"},{"x":0.62,"y":2.25,"s":"u"},{"x":0.35,"y":1.35,"s":"u"},{"x":0.47,"y":1.36,"s":"u"},{"x":0.68,"y":1.4,"s":"u"},{"x":0.77,"y":1.48,"s":"u"},{"x":0.5,"y":1.95,"s":"u"}
]},
"mark":{"type":"point","filled":true,"size":28,"opacity":1},
"encoding":{
"x":{"field":"x","type":"quantitative","scale":{"domain":[-1.536,1.388],"nice":false,"zero":false},"axis":{"values":[-1,0,1],"title":"Student's T-test Difference HSF+ORYvsHSF","titleFontSize":11.5,"titleFontWeight":"bold","titleX":133,"labelFontSize":6,"labelPadding":3,"titlePadding":6}},
"y":{"field":"y","type":"quantitative","scale":{"domain":[-0.255,6.96],"nice":false,"zero":false},"axis":{"values":[0,2,4,6],"title":"-Log Student's T-test p-value HSF+ORYvsHSF","titleFontSize":14.8,"titleFontWeight":"normal","titleY":143,"labelAngle":-90,"labelAlign":"center","labelBaseline":"bottom","labelFontSize":6,"labelPadding":4,"titlePadding":6}},
"color":{"field":"s","type":"nominal","scale":{"domain":["n","d","u"],"range":["#878787","#0B7D7D","#FF0000"]},"legend":null}}},
{"width":200,"height":235,
"data":{"values":[
{"r":1,"c":1,"k":"DG","p":"f"},{"r":1,"c":2,"k":"DG","p":"f"},{"r":1,"c":3,"k":"DG","p":"f"},{"r":1,"c":4,"k":"DG","p":"f"},{"r":1,"c":5,"k":"DG","p":"f"},{"r":1,"c":6,"k":"DG","p":"f"},{"r":1,"c":7,"k":"DG","p":"f"},{"r":1,"c":8,"k":"DG","p":"f"},{"r":1,"c":9,"k":"DG","p":"f"},{"r":1,"c":10,"k":"DG","p":"f"},
{"r":2,"c":1,"k":"DG","p":"f"},{"r":2,"c":2,"k":"DG","p":"f"},{"r":2,"c":3,"k":"DG","p":"f"},{"r":2,"c":4,"k":"DG","p":"f"},{"r":2,"c":5,"k":"DG","p":"f"},{"r":2,"c":6,"k":"DG","p":"f"},{"r":2,"c":7,"k":"DG","p":"f"},{"r":2,"c":8,"k":"DG","p":"f"},{"r":2,"c":9,"k":"DG","p":"f"},{"r":2,"c":10,"k":"DG","p":"f"},
{"r":3,"c":1,"k":"DG","p":"f"},{"r":3,"c":2,"k":"DG","p":"f"},{"r":3,"c":3,"k":"DG","p":"f"},{"r":3,"c":4,"k":"DG","p":"f"},{"r":3,"c":5,"k":"DG","p":"f"},{"r":3,"c":6,"k":"DG","p":"f"},{"r":3,"c":7,"k":"DG","p":"f"},{"r":3,"c":8,"k":"DG","p":"f"},{"r":3,"c":9,"k":"DG","p":"f"},{"r":3,"c":10,"k":"DG","p":"f"},
{"r":4,"c":1,"k":"DG","p":"l"},{"r":4,"c":1,"k":"TG","p":"r"},{"r":4,"c":2,"k":"TG","p":"f"},{"r":4,"c":3,"k":"TG","p":"f"},{"r":4,"c":4,"k":"TG","p":"f"},{"r":4,"c":5,"k":"TG","p":"f"},{"r":4,"c":6,"k":"TG","p":"f"},{"r":4,"c":7,"k":"TG","p":"f"},{"r":4,"c":8,"k":"TG","p":"f"},{"r":4,"c":9,"k":"TG","p":"f"},{"r":4,"c":10,"k":"TG","p":"f"},
{"r":5,"c":1,"k":"TG","p":"f"},{"r":5,"c":2,"k":"TG","p":"l"},{"r":5,"c":2,"k":"PC","p":"r"},{"r":5,"c":3,"k":"PC","p":"f"},{"r":5,"c":4,"k":"PC","p":"f"},{"r":5,"c":5,"k":"PC","p":"f"},{"r":5,"c":6,"k":"PC","p":"f"},{"r":5,"c":7,"k":"PC","p":"f"},{"r":5,"c":8,"k":"PC","p":"f"},{"r":5,"c":9,"k":"PC","p":"f"},{"r":5,"c":10,"k":"PC","p":"f"},
{"r":6,"c":1,"k":"PC","p":"f"},{"r":6,"c":2,"k":"PC","p":"f"},{"r":6,"c":3,"k":"PC","p":"f"},{"r":6,"c":4,"k":"PC","p":"f"},{"r":6,"c":5,"k":"PC","p":"f"},{"r":6,"c":6,"k":"PC","p":"f"},{"r":6,"c":7,"k":"PC","p":"f"},{"r":6,"c":8,"k":"PC","p":"f"},{"r":6,"c":9,"k":"PC","p":"f"},{"r":6,"c":10,"k":"PC","p":"f"},
{"r":7,"c":1,"k":"PC","p":"f"},{"r":7,"c":2,"k":"Others","p":"f"},{"r":7,"c":3,"k":"Others","p":"f"},{"r":7,"c":4,"k":"Others","p":"f"},{"r":7,"c":5,"k":"Others","p":"f"},{"r":7,"c":6,"k":"Others","p":"f"},{"r":7,"c":7,"k":"Others","p":"f"},{"r":7,"c":8,"k":"Others","p":"f"},{"r":7,"c":9,"k":"Others","p":"f"},{"r":7,"c":10,"k":"Others","p":"f"},
{"r":8,"c":1,"k":"Others","p":"f"},{"r":8,"c":2,"k":"Others","p":"f"},{"r":8,"c":3,"k":"Others","p":"f"},{"r":8,"c":4,"k":"Others","p":"f"},{"r":8,"c":5,"k":"Others","p":"f"},{"r":8,"c":6,"k":"Others","p":"f"},{"r":8,"c":7,"k":"Others","p":"f"},{"r":8,"c":8,"k":"Others","p":"f"},{"r":8,"c":9,"k":"Others","p":"f"},{"r":8,"c":10,"k":"Others","p":"f"},
{"r":9,"c":1,"k":"Others","p":"f"},{"r":9,"c":2,"k":"Others","p":"f"},{"r":9,"c":3,"k":"Others","p":"f"},{"r":9,"c":4,"k":"Others","p":"f"},{"r":9,"c":5,"k":"Others","p":"f"},{"r":9,"c":6,"k":"Others","p":"f"},{"r":9,"c":7,"k":"Others","p":"f"},{"r":9,"c":8,"k":"Others","p":"f"},{"r":9,"c":9,"k":"Others","p":"f"},{"r":9,"c":10,"k":"Others","p":"f"},
{"r":10,"c":1,"k":"Others","p":"f"},{"r":10,"c":2,"k":"Others","p":"f"},{"r":10,"c":3,"k":"Others","p":"f"},{"r":10,"c":4,"k":"Others","p":"f"},{"r":10,"c":5,"k":"Others","p":"f"},{"r":10,"c":6,"k":"Others","p":"f"},{"r":10,"c":7,"k":"Others","p":"f"},{"r":10,"c":8,"k":"Others","p":"f"},{"r":10,"c":9,"k":"Others","p":"f"},{"r":10,"c":10,"k":"Others","p":"f"}
]},
"mark":{"type":"point","filled":true,"size":180,"opacity":1,"strokeWidth":0},
"encoding":{
"x":{"field":"c","type":"quantitative","scale":{"domain":[0.78,11.0],"nice":false,"zero":false},"axis":null},
"y":{"field":"r","type":"quantitative","scale":{"domain":[-1.674,10.34],"reverse":true,"nice":false,"zero":false},"axis":null},
"shape":{"field":"p","type":"nominal","scale":{"domain":["f","l","r"],"range":["circle","M0,-1A1,1 0 0,0 0,1Z","M0,-1A1,1 0 0,1 0,1Z"]},"legend":null},
"color":{"field":"k","type":"nominal","scale":{"domain":["DG","TG","PC","Others"],"range":["#F96767","#FCC865","#7F00FF","#808080"]},"legend":{"orient":"none","legendX":234,"legendY":46,"title":null,"symbolType":"M-1.3,-0.7H1.3V0.7H-1.3Z","symbolSize":196,"symbolStrokeWidth":0,"labelFont":"Liberation Sans","labelFontSize":15,"labelColor":"#222","labelOffset":16,"rowPadding":3.9,"padding":0}}}},
{"width":200,"height":235,
"data":{"values":[
{"r":1,"c":1,"k":"DG","p":"f"},{"r":1,"c":2,"k":"DG","p":"f"},{"r":1,"c":3,"k":"DG","p":"f"},{"r":1,"c":4,"k":"DG","p":"f"},{"r":1,"c":5,"k":"DG","p":"f"},{"r":1,"c":6,"k":"DG","p":"f"},{"r":1,"c":7,"k":"DG","p":"f"},{"r":1,"c":8,"k":"DG","p":"f"},{"r":1,"c":9,"k":"DG","p":"f"},{"r":1,"c":10,"k":"DG","p":"f"},
{"r":2,"c":1,"k":"DG","p":"f"},{"r":2,"c":2,"k":"DG","p":"f"},{"r":2,"c":3,"k":"DG","p":"f"},{"r":2,"c":4,"k":"DG","p":"f"},{"r":2,"c":5,"k":"DG","p":"f"},{"r":2,"c":6,"k":"DG","p":"f"},{"r":2,"c":7,"k":"DG","p":"f"},{"r":2,"c":8,"k":"DG","p":"f"},{"r":2,"c":9,"k":"DG","p":"f"},{"r":2,"c":10,"k":"DG","p":"f"},
{"r":3,"c":1,"k":"DG","p":"f"},{"r":3,"c":2,"k":"DG","p":"l"},{"r":3,"c":2,"k":"TG","p":"r"},{"r":3,"c":3,"k":"TG","p":"f"},{"r":3,"c":4,"k":"TG","p":"f"},{"r":3,"c":5,"k":"TG","p":"f"},{"r":3,"c":6,"k":"TG","p":"f"},{"r":3,"c":7,"k":"TG","p":"f"},{"r":3,"c":8,"k":"TG","p":"f"},{"r":3,"c":9,"k":"TG","p":"f"},{"r":3,"c":10,"k":"TG","p":"f"},
{"r":4,"c":1,"k":"TG","p":"f"},{"r":4,"c":2,"k":"TG","p":"f"},{"r":4,"c":3,"k":"TG","p":"f"},{"r":4,"c":4,"k":"TG","p":"f"},{"r":4,"c":5,"k":"TG","p":"f"},{"r":4,"c":6,"k":"TG","p":"f"},{"r":4,"c":7,"k":"TG","p":"f"},{"r":4,"c":8,"k":"TG","p":"f"},{"r":4,"c":9,"k":"TG","p":"f"},{"r":4,"c":10,"k":"TG","p":"f"},
{"r":5,"c":1,"k":"TG","p":"f"},{"r":5,"c":2,"k":"TG","p":"l"},{"r":5,"c":2,"k":"PC","p":"r"},{"r":5,"c":3,"k":"PC","p":"f"},{"r":5,"c":4,"k":"PC","p":"f"},{"r":5,"c":5,"k":"PC","p":"f"},{"r":5,"c":6,"k":"PC","p":"f"},{"r":5,"c":7,"k":"PC","p":"f"},{"r":5,"c":8,"k":"PC","p":"f"},{"r":5,"c":9,"k":"PC","p":"f"},{"r":5,"c":10,"k":"PC","p":"f"},
{"r":6,"c":1,"k":"PC","p":"f"},{"r":6,"c":2,"k":"PC","p":"f"},{"r":6,"c":3,"k":"PC","p":"f"},{"r":6,"c":4,"k":"PC","p":"f"},{"r":6,"c":5,"k":"PC","p":"f"},{"r":6,"c":6,"k":"PC","p":"f"},{"r":6,"c":7,"k":"PC","p":"f"},{"r":6,"c":8,"k":"PC","p":"f"},{"r":6,"c":9,"k":"PC","p":"l"},{"r":6,"c":9,"k":"Others","p":"r"},{"r":6,"c":10,"k":"Others","p":"f"},
{"r":7,"c":1,"k":"Others","p":"f"},{"r":7,"c":2,"k":"Others","p":"f"},{"r":7,"c":3,"k":"Others","p":"f"},{"r":7,"c":4,"k":"Others","p":"f"},{"r":7,"c":5,"k":"Others","p":"f"},{"r":7,"c":6,"k":"Others","p":"f"},{"r":7,"c":7,"k":"Others","p":"f"},{"r":7,"c":8,"k":"Others","p":"f"},{"r":7,"c":9,"k":"Others","p":"f"},{"r":7,"c":10,"k":"Others","p":"f"},
{"r":8,"c":1,"k":"Others","p":"f"},{"r":8,"c":2,"k":"Others","p":"f"},{"r":8,"c":3,"k":"Others","p":"f"},{"r":8,"c":4,"k":"Others","p":"f"},{"r":8,"c":5,"k":"Others","p":"f"},{"r":8,"c":6,"k":"Others","p":"f"},{"r":8,"c":7,"k":"Others","p":"f"},{"r":8,"c":8,"k":"Others","p":"f"},{"r":8,"c":9,"k":"Others","p":"f"},{"r":8,"c":10,"k":"Others","p":"f"},
{"r":9,"c":1,"k":"Others","p":"f"},{"r":9,"c":2,"k":"Others","p":"f"},{"r":9,"c":3,"k":"Others","p":"f"},{"r":9,"c":4,"k":"Others","p":"f"},{"r":9,"c":5,"k":"Others","p":"f"},{"r":9,"c":6,"k":"Others","p":"f"},{"r":9,"c":7,"k":"Others","p":"f"},{"r":9,"c":8,"k":"Others","p":"f"},{"r":9,"c":9,"k":"Others","p":"f"},{"r":9,"c":10,"k":"Others","p":"f"},
{"r":10,"c":1,"k":"Others","p":"f"},{"r":10,"c":2,"k":"Others","p":"f"},{"r":10,"c":3,"k":"Others","p":"f"},{"r":10,"c":4,"k":"Others","p":"f"},{"r":10,"c":5,"k":"Others","p":"f"},{"r":10,"c":6,"k":"Others","p":"f"},{"r":10,"c":7,"k":"Others","p":"f"},{"r":10,"c":8,"k":"Others","p":"f"},{"r":10,"c":9,"k":"Others","p":"f"},{"r":10,"c":10,"k":"Others","p":"f"}
]},
"mark":{"type":"point","filled":true,"size":180,"opacity":1,"strokeWidth":0},
"encoding":{
"x":{"field":"c","type":"quantitative","scale":{"domain":[1.015,11.325],"nice":false,"zero":false},"axis":null},
"y":{"field":"r","type":"quantitative","scale":{"domain":[-1.491,10.456],"reverse":true,"nice":false,"zero":false},"axis":null},
"shape":{"field":"p","type":"nominal","scale":{"domain":["f","l","r"],"range":["circle","M0,-1A1,1 0 0,0 0,1Z","M0,-1A1,1 0 0,1 0,1Z"]},"legend":null},
"color":{"field":"k","type":"nominal","scale":{"domain":["DG","TG","PC","Others"],"range":["#F96767","#FCC865","#7F00FF","#808080"]},"legend":{"orient":"none","legendX":228,"legendY":42,"title":null,"symbolType":"M-1.3,-0.7H1.3V0.7H-1.3Z","symbolSize":196,"symbolStrokeWidth":0,"labelFont":"Liberation Sans","labelFontSize":15,"labelColor":"#222","labelOffset":16,"rowPadding":3.9,"padding":0}}}}
]
}
